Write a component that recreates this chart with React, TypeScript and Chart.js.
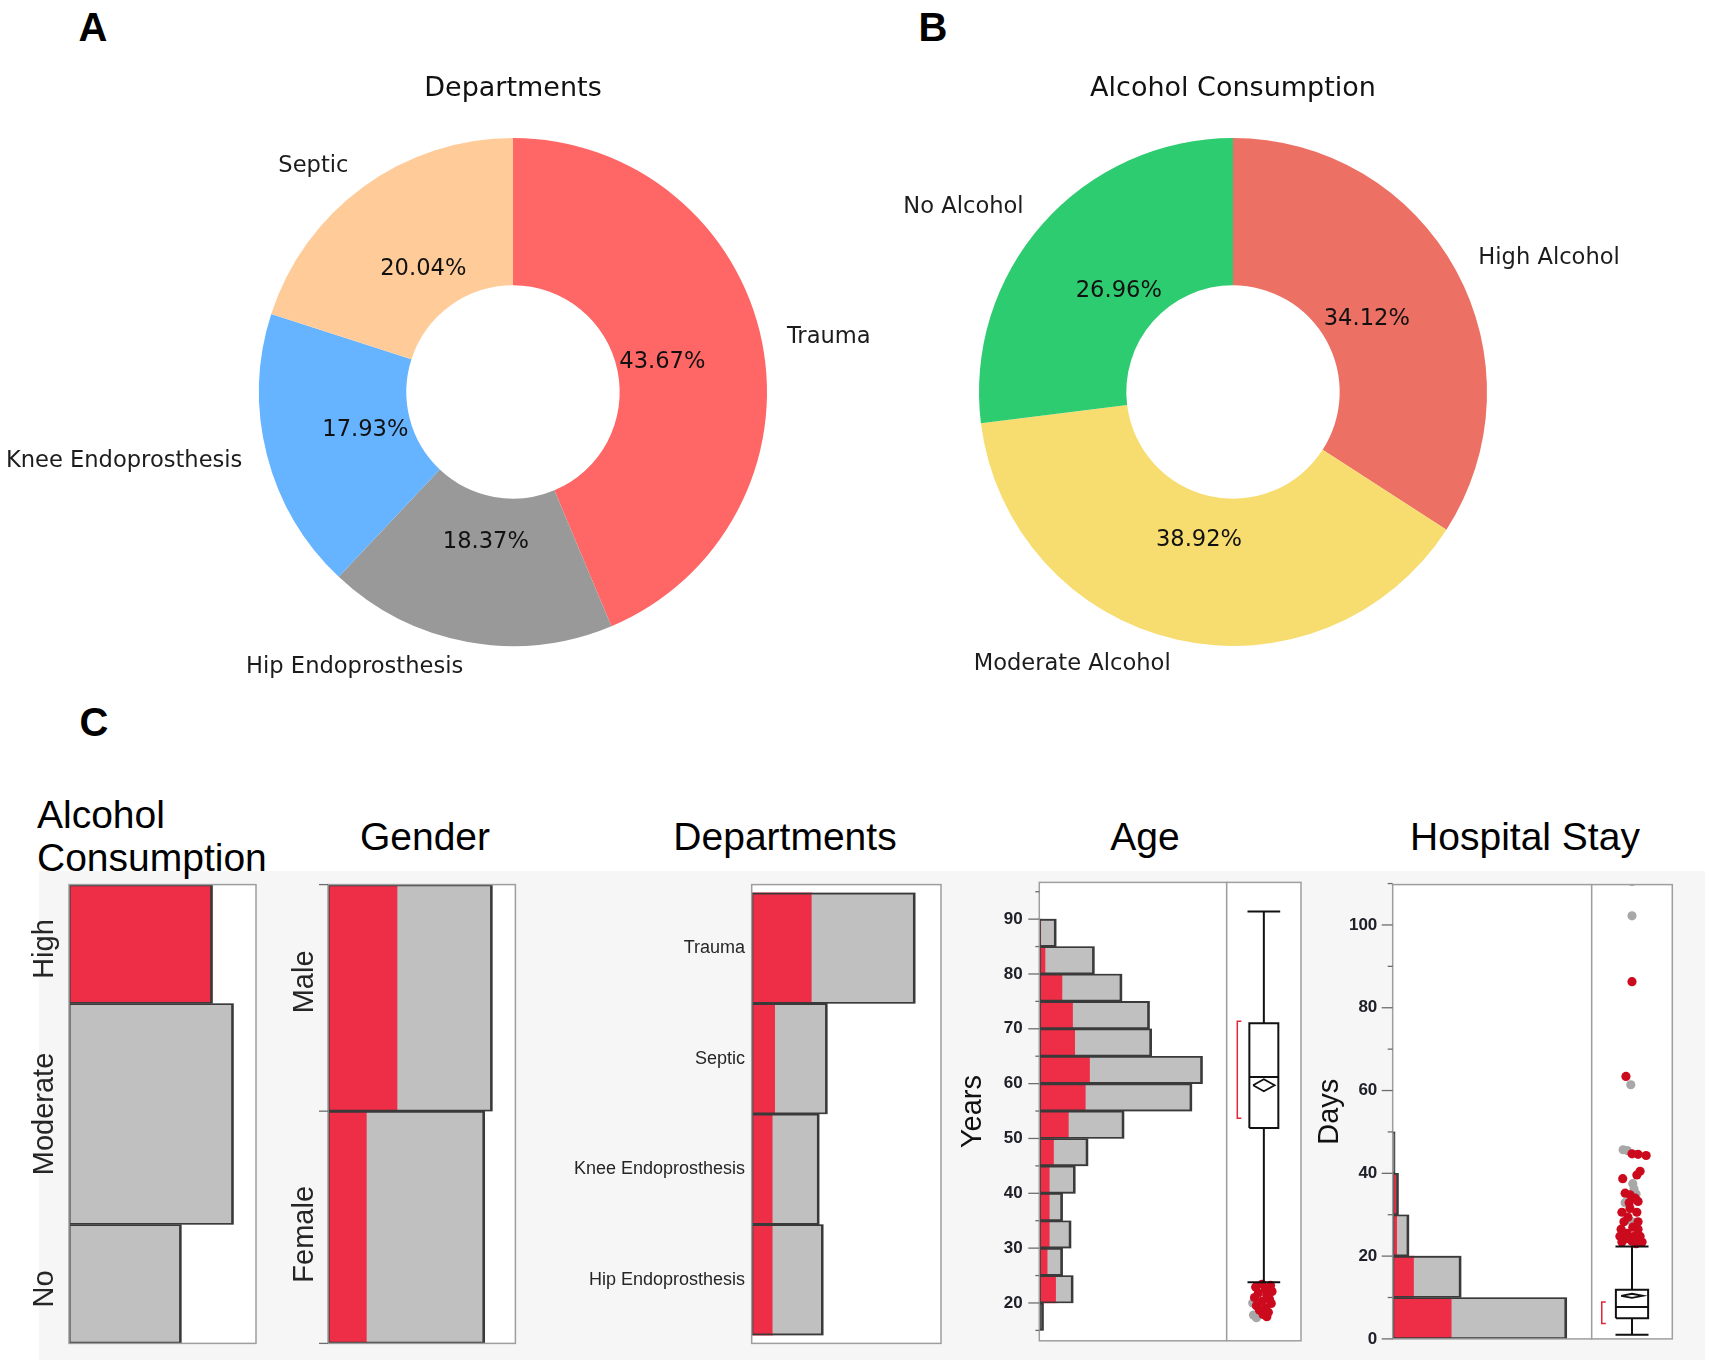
import React, { useEffect, useRef } from 'react';
import { Chart, registerables } from 'chart.js';

Chart.register(...registerables);

// ================= DATA =================
// Panel A – Departments (donut)
const departmentLabels = ['Trauma', 'Hip Endoprosthesis', 'Knee Endoprosthesis', 'Septic'];
const departmentShares = [43.67, 18.37, 17.93, 20.04];
const departmentColors = ['#ff6666', '#999999', '#66b3ff', '#ffcc99'];

// Panel B – Alcohol consumption (donut)
const alcoholLabels = ['High Alcohol', 'Moderate Alcohol', 'No Alcohol'];
const alcoholShares = [34.12, 38.92, 26.96];
const alcoholColors = ['#ec7063', '#f7dc6f', '#2ecc71'];

// Panel C – distributions (counts; "selected" = High alcohol subset, shown in red)
const alcoholLevels = ['High', 'Moderate', 'No'];
const alcoholLevelCounts = [157, 180, 123];
const alcoholLevelSelected = [157, 0, 0];

const genderLevels = ['Male', 'Female'];
const genderCounts = [236, 225];
const genderSelected = [100, 56];

const departmentLevels = ['Trauma', 'Septic', 'Knee Endoprosthesis', 'Hip Endoprosthesis'];
const departmentCounts = [201, 93, 83, 88];
const departmentSelected = [74, 29, 26, 26];

const ageBinStart = [15, 20, 25, 30, 35, 40, 45, 50, 55, 60, 65, 70, 75, 80, 85];
const ageBinWidth = 5;
const ageCounts = [2, 16, 11, 15, 11, 17, 23, 40, 72, 77, 53, 52, 39, 26, 8];
const ageSelected = [0, 8, 4, 5, 5, 5, 7, 14, 22, 24, 17, 16, 11, 3, 1];
const ageTickValues = [15, 20, 25, 30, 35, 40, 45, 50, 55, 60, 65, 70, 75, 80, 85, 90, 95];
const ageTickLabels = [20, 30, 40, 50, 60, 70, 80, 90];
// whisker low, Q1, median, Q3, whisker high
const ageBoxStats = [23.8, 51.9, 61.2, 71.0, 91.4];
const ageMeanDiamond = [59.7, 1.1]; // mean, half-height of CI
const ageShortestHalf = [53.7, 71.4];
const ageOutlierValues = [23.4, 23.2, 22.9, 22.5, 22.1, 21.8, 21.4, 21.0, 20.7, 20.3, 19.9, 19.5, 19.1, 18.7, 18.3, 17.9, 17.5, 17.3, 17.8, 20.0];
const ageOutlierJitter = [-0.05, 0.18, -0.22, 0.05, 0.22, -0.15, 0.08, -0.25, 0.15, -0.05, 0.2, -0.2, 0.05, -0.12, 0.12, -0.02, 0.08, -0.2, -0.28, -0.3];
const ageOutlierSelected = [1, 1, 1, 1, 1, 1, 1, 1, 1, 1, 1, 1, 1, 1, 1, 1, 1, 0, 0, 0];

const stayBinStart = [0, 10, 20, 30, 40];
const stayBinWidth = 10;
const stayCounts = [300, 118, 28, 10, 4];
const staySelected = [102, 37, 8, 7, 1];
const stayTickValues = [0, 10, 20, 30, 40, 50, 60, 70, 80, 90, 100, 110];
const stayTickLabels = [0, 20, 40, 60, 80, 100];
const stayBoxStats = [1.0, 5.0, 7.7, 11.9, 22.3];
const stayMeanDiamond = [10.4, 0.5];
const stayShortestHalf = [3.7, 8.9];
const stayOutlierValues = [110.5, 102.2, 61.4, 45.7, 45.5, 37.5, 36.2, 32.9, 28.3, 35.0,
  86.3, 63.4, 44.7, 44.6, 44.3, 40.5, 39.6, 38.7, 35.2, 34.8, 34.0, 33.2, 32.9, 31.5, 30.6, 30.6, 29.4,
  28.3, 28.3, 27.0, 26.5, 26.5, 25.5, 24.8, 24.8, 24.8, 24.2, 23.6, 23.4, 23.4, 23.0];
const stayOutlierJitter = [0, 0, -0.03, -0.22, -0.12, 0.02, 0.05, -0.17, 0.0, 0.1,
  0, -0.15, 0.0, 0.15, 0.35, 0.2, 0.12, -0.23, -0.17, -0.05, 0.08, 0.15, -0.07, -0.05, -0.25, 0.12, -0.1,
  -0.2, 0.15, 0.02, -0.27, 0.15, -0.12, -0.3, 0.06, 0.2, -0.15, 0.0, -0.25, 0.25, 0.1];
const stayOutlierSelected = [0, 0, 0, 0, 0, 0, 0, 0, 0, 0,
  1, 1, 1, 1, 1, 1, 1, 1, 1, 1, 1, 1, 1, 1, 1, 1, 1,
  1, 1, 1, 1, 1, 1, 1, 1, 1, 1, 1, 1, 1, 1];

// ================= LAYOUT / STYLE =================
const FONT_SANS = "'Liberation Sans', Arial, sans-serif";
const FONT_MPL = "'DejaVu Sans', sans-serif";
const COLORS = {
  selected: '#ee2e46',
  unselected: '#c0c0c0',
  outline: '#3a3a3a',
  frame: '#9e9e9e',
  band: '#f6f6f6',
  dotSel: '#cc0a1e',
  dotUnsel: '#a8a8a8',
  bracket: '#e0283a',
};
const OUTLINE_W = { top: 1.2, bottom: 1.2, left: 1.2, right: 2 };

type Rect = { left: number; top: number; width: number; height: number };
type Frame = { l: number; t: number; r: number; b: number };

const L = {
  donutA: { canvas: { left: 0, top: 0, width: 870, height: 700 }, cx: 513, cy: 392, r: 254, titleY: 89 },
  donutB: { canvas: { left: 870, top: 0, width: 843, height: 700 }, cx: 1233, cy: 392, r: 254, titleY: 89 },
  alc: { canvas: { left: 20, top: 864, width: 250, height: 500 }, frame: { l: 69, t: 884.6, r: 256, b: 1343.4 }, weights: [1, 1.86, 1], pad: 0, xMax: 204.6, labelX: 44.6, labelShift: [5, 0, 5] },
  gender: { canvas: { left: 272, top: 864, width: 258, height: 500 }, frame: { l: 328, t: 884.6, r: 515.4, b: 1343.4 }, weights: [1, 1.025], pad: 0, xMax: 269, labelX: 305, labelShift: [-16, 7] },
  dept: { canvas: { left: 560, top: 864, width: 395, height: 500 }, frame: { l: 751.7, t: 884.6, r: 941, b: 1343.4 }, weights: [1, 1, 1, 1], pad: 0.075, xMax: 232.6, labelX: 745, labelShift: [0, 0, 0, 0] },
  ageHist: { canvas: { left: 955, top: 862, width: 280, height: 500 }, frame: { l: 1039.3, t: 882.4, r: 1226.7, b: 1340.8 }, xMax: 88.4, yMin: 13.1, yMax: 96.7, titleX: 973.3, labelRight: 1022.7 },
  ageBox: { canvas: { left: 1220, top: 862, width: 90, height: 500 }, frame: { l: 1226.7, t: 882.4, r: 1301, b: 1340.8 }, boxHalf: 0.39, capHalf: 0.44, diamondHalf: 0.29, bracketX: -0.715, bracketTick: 0.11 },
  stayHist: { canvas: { left: 1300, top: 864, width: 300, height: 495 }, frame: { l: 1392.7, t: 884.6, r: 1591.7, b: 1338.9 }, xMax: 343, yMin: 0, yMax: 109.75, titleX: 1330, labelRight: 1377.3 },
  stayBox: { canvas: { left: 1585, top: 864, width: 95, height: 495 }, frame: { l: 1591.7, t: 884.6, r: 1672.3, b: 1338.9 }, boxHalf: 0.4, capHalf: 0.41, diamondHalf: 0.27, bracketX: -0.75, bracketTick: 0.1 },
};

const padFor = (c: Rect, f: Frame, axisW = 0) => ({
  left: f.l - c.left - axisW,
  top: f.t - c.top,
  right: c.left + c.width - f.r,
  bottom: c.top + c.height - f.b,
});

// ================= PLUGINS =================
const framePlugin = () => ({
  id: 'frame',
  beforeDraw(chart: any) {
    const a = chart.chartArea;
    const ctx = chart.ctx;
    ctx.save();
    ctx.fillStyle = '#ffffff';
    ctx.fillRect(a.left, a.top, a.right - a.left, a.bottom - a.top);
    ctx.restore();
  },
  afterDatasetsDraw(chart: any) {
    const a = chart.chartArea;
    const ctx = chart.ctx;
    ctx.save();
    ctx.strokeStyle = COLORS.frame;
    ctx.lineWidth = 1.5;
    ctx.strokeRect(a.left, a.top, a.right - a.left, a.bottom - a.top);
    ctx.restore();
  },
});

const tickMarksPlugin = (major: number[], minor: number[], majorLen: number, minorLen: number) => ({
  id: 'tickMarks',
  afterDraw(chart: any) {
    const s = chart.scales.y;
    const x0 = chart.chartArea.left;
    const ctx = chart.ctx;
    ctx.save();
    ctx.strokeStyle = '#6d6d6d';
    ctx.lineWidth = 1.3;
    const draw = (v: number, len: number) => {
      const y = s.getPixelForValue(v);
      ctx.beginPath();
      ctx.moveTo(x0 - len, y);
      ctx.lineTo(x0, y);
      ctx.stroke();
    };
    major.forEach((v) => draw(v, majorLen));
    minor.forEach((v) => draw(v, minorLen));
    ctx.restore();
  },
});

const rowLabelPlugin = (o: { labels: string[]; centers: number[]; bounds: number[]; shifts: number[]; x: number; rotate: boolean; font: string; boundaryTick?: number }) => ({
  id: 'rowLabels',
  afterDraw(chart: any) {
    const ctx = chart.ctx;
    const ys = chart.scales.y;
    o.labels.forEach((t, i) => {
      const y = ys.getPixelForValue(o.centers[i]) + (o.shifts[i] || 0);
      ctx.save();
      ctx.font = o.font;
      ctx.fillStyle = '#262626';
      ctx.textBaseline = 'middle';
      if (o.rotate) {
        ctx.translate(o.x, y);
        ctx.rotate(-Math.PI / 2);
        ctx.textAlign = 'center';
        ctx.fillText(t, 0, 0);
      } else {
        ctx.textAlign = 'right';
        ctx.fillText(t, o.x, y);
      }
      ctx.restore();
    });
    if (o.boundaryTick) {
      const x0 = chart.chartArea.left;
      ctx.save();
      ctx.strokeStyle = '#6d6d6d';
      ctx.lineWidth = 1.3;
      o.bounds.forEach((b) => {
        const y = ys.getPixelForValue(b);
        ctx.beginPath();
        ctx.moveTo(x0 - (o.boundaryTick as number), y);
        ctx.lineTo(x0, y);
        ctx.stroke();
      });
      ctx.restore();
    }
  },
});

const donutTextPlugin = (title: string, titleY: number) => ({
  id: 'donutText',
  afterDraw(chart: any) {
    const ctx = chart.ctx;
    const meta = chart.getDatasetMeta(0);
    const data: number[] = chart.data.datasets[0].data;
    const labels: string[] = chart.data.labels;
    const total = data.reduce((a, b) => a + b, 0);
    ctx.save();
    ctx.fillStyle = '#111111';
    ctx.textBaseline = 'middle';
    const first = meta.data[0];
    ctx.font = `27px ${FONT_MPL}`;
    ctx.textAlign = 'center';
    ctx.fillText(title, first.x, titleY);
    ctx.font = `22.6px ${FONT_MPL}`;
    meta.data.forEach((arc: any, i: number) => {
      const p = arc.getProps(['x', 'y', 'startAngle', 'endAngle', 'outerRadius'], true);
      const mid = (p.startAngle + p.endAngle) / 2;
      const c = Math.cos(mid);
      const s = Math.sin(mid);
      ctx.fillStyle = '#1c1c1c';
      ctx.textAlign = c >= 0 ? 'left' : 'right';
      ctx.fillText(labels[i], p.x + 1.1 * p.outerRadius * c, p.y + 1.1 * p.outerRadius * s);
      ctx.fillStyle = '#111111';
      ctx.textAlign = 'center';
      ctx.fillText(((data[i] / total) * 100).toFixed(2) + '%', p.x + 0.6 * p.outerRadius * c, p.y + 0.6 * p.outerRadius * s);
    });
    ctx.restore();
  },
});

// ================= CONFIG BUILDERS =================
function donutConfig(labels: string[], values: number[], colors: string[], g: any, title: string) {
  const c = g.canvas;
  const padding = {
    left: g.cx - g.r - c.left,
    right: c.left + c.width - (g.cx + g.r),
    top: g.cy - g.r - c.top,
    bottom: c.top + c.height - (g.cy + g.r),
  };
  return {
    type: 'doughnut',
    data: { labels, datasets: [{ data: values, backgroundColor: colors, borderWidth: 0 }] },
    options: {
      responsive: false,
      animation: false,
      events: [],
      cutout: '42%',
      layout: { padding },
      plugins: { legend: { display: false }, tooltip: { enabled: false } },
    },
    plugins: [donutTextPlugin(title, g.titleY - c.top)],
  };
}

function rowGeometry(weights: number[], pad: number) {
  const centers: number[] = [];
  const bounds: number[] = [pad];
  let acc = pad;
  weights.forEach((w) => {
    centers.push(acc + w / 2);
    acc += w;
    bounds.push(acc);
  });
  return { centers, bounds, max: acc + pad };
}

function mosaicConfig(levels: string[], counts: number[], selected: number[], g: any, rotate: boolean, font: string, boundaryTick?: number) {
  const { centers, bounds, max } = rowGeometry(g.weights, g.pad);
  const datasets: any[] = [];
  levels.forEach((lv, i) => {
    const thickness = (ctx: any) => {
      const s = ctx.chart.scales.y;
      return Math.abs(s.getPixelForValue(g.weights[i]) - s.getPixelForValue(0));
    };
    const common = { grouped: false, barThickness: thickness, borderSkipped: false };
    datasets.push({ ...common, label: lv, data: [{ y: centers[i], x: [0, counts[i]] }], backgroundColor: 'rgba(0,0,0,0)', borderColor: COLORS.outline, borderWidth: OUTLINE_W, order: 0 });
    datasets.push({ ...common, label: lv + ' other', data: [{ y: centers[i], x: [selected[i], counts[i]] }], backgroundColor: COLORS.unselected, borderWidth: 0, order: 1 });
    datasets.push({ ...common, label: lv + ' selected', data: [{ y: centers[i], x: [0, selected[i]] }], backgroundColor: COLORS.selected, borderWidth: 0, order: 2 });
  });
  return {
    type: 'bar',
    data: { datasets },
    options: {
      indexAxis: 'y',
      responsive: false,
      animation: false,
      events: [],
      layout: { padding: padFor(g.canvas, g.frame) },
      scales: {
        x: { type: 'linear', display: false, offset: false, min: 0, max: g.xMax },
        y: { type: 'linear', display: false, offset: false, reverse: true, min: 0, max },
      },
      plugins: { legend: { display: false }, tooltip: { enabled: false } },
    },
    plugins: [framePlugin(), rowLabelPlugin({ labels: levels, centers, bounds, shifts: g.labelShift, x: g.labelX - g.canvas.left, rotate, font, boundaryTick })],
  };
}

function histConfig(binStart: number[], binWidth: number, counts: number[], selected: number[], g: any, tickValues: number[], tickLabels: number[], title: string, minorLen: number) {
  const axisW = g.frame.l - g.canvas.left;
  const tickLen = 11;
  const common = { grouped: false, barPercentage: 1, categoryPercentage: 1, borderSkipped: false };
  const centers = binStart.map((s) => s + binWidth / 2);
  const datasets = [
    { ...common, label: 'outline', data: centers.map((y, i) => ({ y, x: [0, counts[i]] })), backgroundColor: 'rgba(0,0,0,0)', borderColor: COLORS.outline, borderWidth: OUTLINE_W, order: 0 },
    { ...common, label: 'other', data: centers.map((y, i) => ({ y, x: [selected[i], counts[i]] })), backgroundColor: COLORS.unselected, borderWidth: 0, order: 1 },
    { ...common, label: 'selected', data: centers.map((y, i) => ({ y, x: [0, selected[i]] })), backgroundColor: COLORS.selected, borderWidth: 0, order: 2 },
  ];
  const titleSize = 29;
  const pad = padFor(g.canvas, g.frame, axisW);
  return {
    type: 'bar',
    data: { datasets },
    options: {
      indexAxis: 'y',
      responsive: false,
      animation: false,
      events: [],
      layout: { padding: { ...pad, left: 0 } },
      scales: {
        x: { type: 'linear', display: false, offset: false, min: 0, max: g.xMax },
        y: {
          type: 'linear',
          offset: false,
          min: g.yMin,
          max: g.yMax,
          afterBuildTicks: (s: any) => {
            s.ticks = tickValues.map((v) => ({ value: v }));
          },
          afterFit: (s: any) => {
            s.width = axisW;
          },
          grid: { display: false, drawTicks: true, tickLength: tickLen },
          border: { display: false },
          ticks: {
            autoSkip: false,
            padding: g.frame.l - g.labelRight - tickLen,
            color: '#20202a',
            font: { family: FONT_SANS, size: 17, weight: 'bold' },
            callback: (v: number) => (tickLabels.includes(v) ? String(v) : ''),
          },
          title: {
            display: true,
            text: title,
            color: '#111111',
            font: { family: FONT_SANS, size: titleSize },
            padding: { top: g.titleX - g.canvas.left - (titleSize * 1.2) / 2, bottom: 0 },
          },
        },
      },
      plugins: { legend: { display: false }, tooltip: { enabled: false } },
    },
    plugins: [
      framePlugin(),
      tickMarksPlugin(
        tickValues.filter((v) => tickLabels.includes(v)),
        tickValues.filter((v) => !tickLabels.includes(v)),
        tickLen,
        minorLen
      ),
    ],
  };
}

function boxConfig(stats: number[], diamond: number[], shortest: number[], outVals: number[], outJit: number[], outSel: number[], yMin: number, yMax: number, g: any) {
  const [lo, q1, med, q3, hi] = stats;
  const [mean, ci] = diamond;
  const bw = g.boxHalf;
  const cw = g.capHalf;
  const dw = g.diamondHalf;
  const bx = g.bracketX;
  const bt = g.bracketTick;
  const line = (pts: number[][], color = '#111111', width = 2) => ({
    data: pts.map(([x, y]) => ({ x, y })),
    showLine: true,
    pointRadius: 0,
    borderColor: color,
    borderWidth: width,
    borderJoinStyle: 'miter',
    fill: false,
    tension: 0,
    order: 0,
  });
  const dots = (sel: number, color: string, order: number) => ({
    data: outVals.map((v, i) => ({ x: outJit[i], y: v })).filter((_, i) => outSel[i] === sel),
    showLine: false,
    pointRadius: 4.6,
    pointBackgroundColor: color,
    pointBorderWidth: 0,
    borderWidth: 0,
    order,
  });
  const datasets = [
    line([[-bw, q1], [bw, q1], [bw, q3], [-bw, q3], [-bw, q1]]),
    line([[-bw, med], [bw, med]]),
    line([[0, q3], [0, hi]]),
    line([[0, q1], [0, lo]]),
    line([[-cw, hi], [cw, hi]]),
    line([[-cw, lo], [cw, lo]]),
    line([[-dw, mean], [0, mean + ci], [dw, mean], [0, mean - ci], [-dw, mean]], '#111111', 1.8),
    line([[bx + bt, shortest[1]], [bx, shortest[1]], [bx, shortest[0]], [bx + bt, shortest[0]]], COLORS.bracket, 1.5),
    dots(1, COLORS.dotSel, 1),
    dots(0, COLORS.dotUnsel, 2),
  ];
  return {
    type: 'scatter',
    data: { datasets },
    options: {
      responsive: false,
      animation: false,
      events: [],
      layout: { padding: padFor(g.canvas, g.frame) },
      scales: {
        x: { type: 'linear', display: false, offset: false, min: -1, max: 1 },
        y: { type: 'linear', display: false, offset: false, min: yMin, max: yMax },
      },
      plugins: { legend: { display: false }, tooltip: { enabled: false } },
    },
    plugins: [framePlugin()],
  };
}

// ================= COMPONENTS =================
function ChartCanvas({ rect, make }: { rect: Rect; make: () => any }) {
  const ref = useRef<HTMLCanvasElement | null>(null);
  useEffect(() => {
    if (!ref.current) return;
    const chart = new Chart(ref.current, make());
    return () => chart.destroy();
  }, []);
  return (
    <canvas
      ref={ref}
      width={rect.width}
      height={rect.height}
      style={{ position: 'absolute', left: rect.left, top: rect.top, width: rect.width, height: rect.height }}
    />
  );
}

function Text({ x, y, children, size, bold, align = 'center' }: { x: number; y: number; children: React.ReactNode; size: number; bold?: boolean; align?: 'center' | 'left' }) {
  return (
    <div
      style={{
        position: 'absolute',
        left: x,
        top: y,
        transform: align === 'center' ? 'translate(-50%, -50%)' : 'translate(0, -50%)',
        fontFamily: FONT_SANS,
        fontSize: size,
        fontWeight: bold ? 700 : 400,
        lineHeight: 1,
        whiteSpace: 'nowrap',
        color: '#000',
      }}
    >
      {children}
    </div>
  );
}

export default function App() {
  return (
    <div style={{ position: 'absolute', left: 0, top: 0, width: 1713, height: 1366, background: '#ffffff', overflow: 'hidden' }}>
      <div style={{ position: 'absolute', left: 39, top: 871, width: 1666, height: 489, background: COLORS.band }} />

      <Text x={93} y={27} size={40} bold>A</Text>
      <Text x={933} y={27} size={40} bold>B</Text>
      <Text x={94} y={722} size={40} bold>C</Text>

      <Text x={37} y={814} size={39} align="left">Alcohol</Text>
      <Text x={37} y={857} size={39} align="left">Consumption</Text>
      <Text x={425} y={836} size={39}>Gender</Text>
      <Text x={785} y={836} size={39}>Departments</Text>
      <Text x={1145} y={836} size={39}>Age</Text>
      <Text x={1525} y={836} size={39}>Hospital Stay</Text>

      <ChartCanvas rect={L.donutA.canvas} make={() => donutConfig(departmentLabels, departmentShares, departmentColors, L.donutA, 'Departments')} />
      <ChartCanvas rect={L.donutB.canvas} make={() => donutConfig(alcoholLabels, alcoholShares, alcoholColors, L.donutB, 'Alcohol Consumption')} />

      <ChartCanvas rect={L.alc.canvas} make={() => mosaicConfig(alcoholLevels, alcoholLevelCounts, alcoholLevelSelected, L.alc, true, `29px ${FONT_SANS}`)} />
      <ChartCanvas rect={L.gender.canvas} make={() => mosaicConfig(genderLevels, genderCounts, genderSelected, L.gender, true, `29px ${FONT_SANS}`, 9)} />
      <ChartCanvas rect={L.dept.canvas} make={() => mosaicConfig(departmentLevels, departmentCounts, departmentSelected, L.dept, false, `18px ${FONT_SANS}`)} />

      <ChartCanvas rect={L.ageHist.canvas} make={() => histConfig(ageBinStart, ageBinWidth, ageCounts, ageSelected, L.ageHist, ageTickValues, ageTickLabels, 'Years', 4)} />
      <ChartCanvas rect={L.ageBox.canvas} make={() => boxConfig(ageBoxStats, ageMeanDiamond, ageShortestHalf, ageOutlierValues, ageOutlierJitter, ageOutlierSelected, L.ageHist.yMin, L.ageHist.yMax, L.ageBox)} />

      <ChartCanvas rect={L.stayHist.canvas} make={() => histConfig(stayBinStart, stayBinWidth, stayCounts, staySelected, L.stayHist, stayTickValues, stayTickLabels, 'Days', 5)} />
      <ChartCanvas rect={L.stayBox.canvas} make={() => boxConfig(stayBoxStats, stayMeanDiamond, stayShortestHalf, stayOutlierValues, stayOutlierJitter, stayOutlierSelected, L.stayHist.yMin, L.stayHist.yMax, L.stayBox)} />
    </div>
  );
}
